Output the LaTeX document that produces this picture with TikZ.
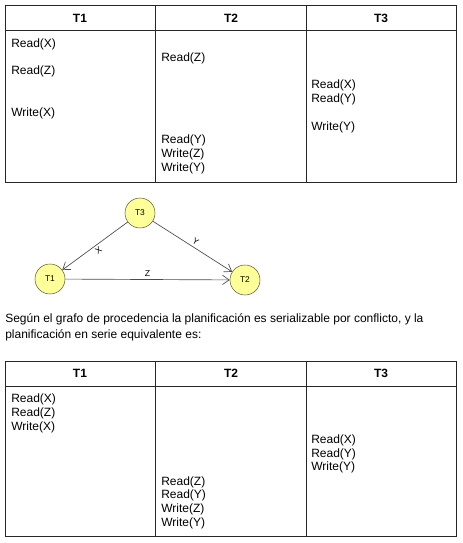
\documentclass[tikz,border=0pt]{standalone}
\usepackage{fontspec}
\setmainfont{Liberation Sans}
\usetikzlibrary{arrows.meta}

\definecolor{nodefill}{HTML}{FFFF99}
\definecolor{nodeline}{HTML}{5A5A3C}

\begin{document}
\begin{tikzpicture}[x=0.75pt,y=-0.75pt,
  op/.style={anchor=west,inner sep=0pt,font=\fontsize{9}{10}\selectfont},
  head/.style={inner sep=0pt,font=\fontsize{9}{10}\selectfont\bfseries},
  grid/.style={line width=0.7pt,black!85},
  tx/.style={circle,draw=nodeline,fill=nodefill,minimum size=22.5pt,inner sep=0pt,
             font=\fontsize{6.3}{7}\selectfont},
  lbl/.style={font=\fontsize{6.5}{7}\selectfont,sloped,inner sep=2pt},
  >={Straight Barb[length=5pt,width=7pt]}]
 \useasboundingbox (0,0) rectangle (463,543);

 % first schedule
 \draw[grid] (5,5) rectangle (456,182);
 \draw[grid] (5,30) -- (456,30) (155,5) -- (155,182) (306,5) -- (306,182);
 \node[head] (h1) at (80,18) {T1};
 \node[head] (h2) at (231,18) {T2};
 \node[head] (h3) at (381,18) {T3};
 \node[op] (a1) at (11,44) {Read(X)};
 \node[op] (a2) at (11,71) {Read(Z)};
 \node[op] (a3) at (11,113) {Write(X)};
 \node[op] (b1) at (161,58) {Read(Z)};
 \node[op] (b2) at (161,140) {Read(Y)};
 \node[op] (b3) at (161,154) {Write(Z)};
 \node[op] (b4) at (161,168) {Write(Y)};
 \node[op] (c1) at (311,85) {Read(X)};
 \node[op] (c2) at (311,99) {Read(Y)};
 \node[op] (c3) at (311,127) {Write(Y)};

 % precedence graph
 \node[tx] (T3) at (140,213) {T3};
 \node[tx] (T1) at (50,279) {T1};
 \node[tx] (T2) at (245,280) {T2};
 \path[->,draw=black!70,line width=0.5pt]
   (T3) edge node[lbl,below] {X} (T1)
   (T3) edge node[lbl,above] {Y} (T2)
   (T1) edge node[lbl,above] {Z} (T2);

 \node[op,anchor=north west,align=left,font=\fontsize{9}{12}\selectfont] (txt) at (5,313)
  {Según el grafo de procedencia la planificación es serializable por conflicto, y la\\
   planificación en serie equivalente es:};

 % serial schedule
 \draw[grid] (5,361) rectangle (456,536);
 \draw[grid] (5,386) -- (456,386) (155,361) -- (155,536) (306,361) -- (306,536);
 \node[head] (k1) at (80,373) {T1};
 \node[head] (k2) at (231,373) {T2};
 \node[head] (k3) at (381,373) {T3};
 \node[op] (d1) at (11,399) {Read(X)};
 \node[op] (d2) at (11,413) {Read(Z)};
 \node[op] (d3) at (11,427) {Write(X)};
 \node[op] (e1) at (161,482) {Read(Z)};
 \node[op] (e2) at (161,495) {Read(Y)};
 \node[op] (e3) at (161,509) {Write(Z)};
 \node[op] (e4) at (161,523) {Write(Y)};
 \node[op] (f1) at (311,440) {Read(X)};
 \node[op] (f2) at (311,454) {Read(Y)};
 \node[op] (f3) at (311,467) {Write(Y)};
\end{tikzpicture}
\end{document}
